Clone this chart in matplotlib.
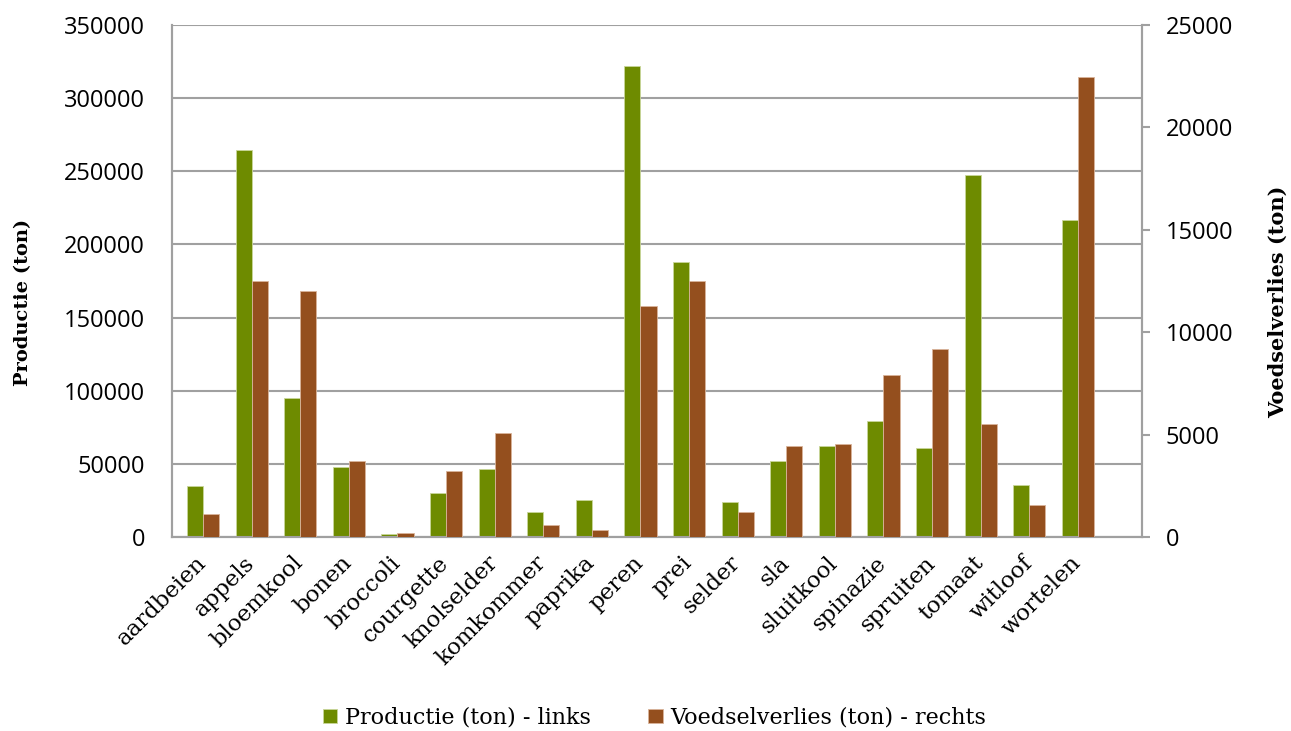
import matplotlib

matplotlib.use("Agg")
import matplotlib.pyplot as plt
import matplotlib.transforms as mtrans
import numpy as np

categories = [
    "aardbeien", "appels", "bloemkool", "bonen", "broccoli", "courgette",
    "knolselder", "komkommer", "paprika", "peren", "prei", "selder", "sla",
    "sluitkool", "spinazie", "spruiten", "tomaat", "witloof", "wortelen",
]
productie = [
    35000, 264500, 95000, 48000, 2000, 30000, 46500, 17000, 25000, 322000,
    188000, 24000, 52000, 62000, 79500, 60500, 247500, 35500, 217000,
]
verlies = [
    1100, 12500, 12000, 3700, 200, 3200, 5100, 600, 350, 11300,
    12500, 1200, 4450, 4550, 7900, 9200, 5500, 1550, 22450,
]

GREEN = "#6E8B00"
BROWN = "#944F1E"
GRID = "#A0A0A0"
SANS = "Open Sans"
SERIF = "DejaVu Serif"

fig = plt.figure(figsize=(12.91, 7.31), dpi=100)
ax = fig.add_axes([0.1332, 0.2654, 0.7514, 0.7004])
ax2 = ax.twinx()

x = np.arange(len(categories))
w = 0.33
b1 = ax.bar(x - w / 2, productie, w, color=GREEN, edgecolor="#C9D69A", lw=0.6,
            label="Productie (ton) - links", zorder=3)
b2 = ax2.bar(x + w / 2, verlies, w, color=BROWN, edgecolor="#D9B49A", lw=0.6,
             label="Voedselverlies (ton) - rechts", zorder=3)

ax.set_xlim(-0.64, 19.32)
ax.set_ylim(0, 350000)
ax2.set_ylim(0, 25000)
ax.set_yticks(np.arange(0, 350001, 50000))
ax2.set_yticks(np.arange(0, 25001, 5000))
ax.yaxis.grid(True, color=GRID, lw=1.5, zorder=0)
ax.set_axisbelow(True)

for a in (ax, ax2):
    a.spines["top"].set_visible(False)
    for s in ("left", "bottom", "right"):
        a.spines[s].set_color(GRID)
        a.spines[s].set_linewidth(1.5)

ax.tick_params(axis="y", length=0, pad=19.5, labelsize=17)
ax.tick_params(axis="x", length=0, pad=5)
ax2.tick_params(axis="y", length=6, width=1.5, color=GRID, pad=11, labelsize=17)
for lbl in ax.get_yticklabels() + ax2.get_yticklabels():
    lbl.set_family(SANS)

ax.set_xticks(x)
ax.set_xticklabels(categories, rotation=45, ha="right", rotation_mode="anchor",
                   family=SERIF, fontsize=16.5)
# nudge the slanted labels down-left like in the original
shift = mtrans.ScaledTranslation(-0.08, -0.08, fig.dpi_scale_trans)
for lbl in ax.get_xticklabels():
    lbl.set_transform(lbl.get_transform() + shift)

ax.set_ylabel("Productie (ton)", family=SERIF, fontsize=14, fontweight="bold")
ax2.set_ylabel("Voedselverlies (ton)", family=SERIF, fontsize=15, fontweight="bold",
               rotation=90)
ax.yaxis.set_label_coords(-0.144, 0.459)
ax2.yaxis.set_label_coords(1.13, 0.459)

fig.legend([b1, b2], [b1.get_label(), b2.get_label()], loc="center",
           bbox_to_anchor=(0.507, 0.018), ncol=2, frameon=False,
           prop={"family": SERIF, "size": 16}, handlelength=0.65, handleheight=0.65,
           handletextpad=0.35, columnspacing=2.6)

fig.savefig("out.png", dpi=100)
